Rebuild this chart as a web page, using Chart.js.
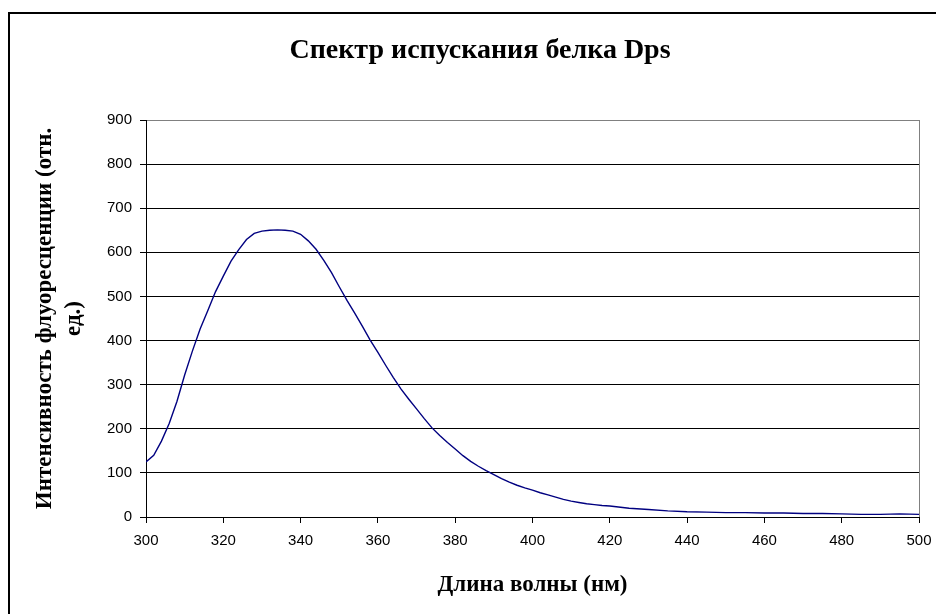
<!doctype html>
<html lang="ru">
<head>
    <meta charset="UTF-8">
    <title>Спектр испускания белка Dps</title>
    <style>
        html, body {
            margin: 0;
            padding: 0;
            background: #fff;
        }
        #chart {
            display: block;
        }
    </style>
</head>
<body>
    <canvas id="chart" width="936" height="614"></canvas>
    <script src="https://cdn.jsdelivr.net/npm/chart.js@4/dist/chart.umd.min.js"></script>
    <script>
        // wavelength, nm
        var wavelength = [
            300, 302, 304, 306, 308, 310, 312, 314, 316, 318,
            320, 322, 324, 326, 328, 330, 332, 334, 336, 338,
            340, 342, 344, 346, 348, 350, 352, 354, 356, 358,
            360, 362, 364, 366, 368, 370, 372, 374, 376, 378,
            380, 382, 384, 386, 388, 390, 392, 394, 396, 398,
            400, 402, 404, 406, 408, 410, 412, 414, 416, 418,
            420, 425, 430, 435, 440, 445, 450, 455, 460, 465,
            470, 475, 480, 485, 490, 495, 500
        ];
        // fluorescence intensity, rel. units
        var intensity = [
            125, 140, 172, 212, 262, 322, 376, 426, 468, 511,
            546, 580, 606, 629, 643, 648, 650, 651, 650, 648,
            641, 626, 607, 582, 554, 522, 491, 462, 432, 401,
            373, 344, 316, 290, 267, 245, 223, 202, 185, 169,
            154, 139, 126, 115, 105, 96, 87, 79, 72, 66,
            61, 55, 50, 45, 40, 36, 33, 30, 28, 26,
            25, 20, 17, 14, 12, 11, 10, 10, 9, 9,
            8, 8, 7, 6, 6, 7, 6
        ];
        var xTicks = [300, 320, 340, 360, 380, 400, 420, 440, 460, 480, 500];
        var yTicks = [0, 100, 200, 300, 400, 500, 600, 700, 800, 900];

        var chartTitle = 'Спектр испускания белка Dps';
        var xTitle = 'Длина волны (нм)';
        var yTitle = ['Интенсивность флуоресценции (отн.', 'ед.)'];

        var points = wavelength.map(function (w, i) {
            return { x: w, y: intensity[i] };
        });

        var serif = '"Liberation Serif", "Times New Roman", serif';
        var sans = '"Liberation Sans", Arial, sans-serif';

        // outer frame, title and the grey right edge of the plot
        var decor = {
            id: 'decor',
            beforeDraw: function (chart) {
                var ctx = chart.ctx;
                ctx.save();
                ctx.fillStyle = '#fff';
                ctx.fillRect(0, 0, chart.width, chart.height);
                ctx.strokeStyle = '#000';
                ctx.lineWidth = 2;
                ctx.beginPath();
                ctx.moveTo(9, chart.height);
                ctx.lineTo(9, 13);
                ctx.lineTo(chart.width, 13);
                ctx.stroke();

                ctx.fillStyle = '#000';
                ctx.font = 'bold 28px ' + serif;
                ctx.textAlign = 'center';
                ctx.textBaseline = 'alphabetic';
                ctx.fillText(chartTitle, 480, 58);
                ctx.restore();
            },
            afterDraw: function (chart) {
                var a = chart.chartArea;
                var ctx = chart.ctx;
                ctx.save();
                ctx.strokeStyle = '#808080';
                ctx.lineWidth = 1;
                ctx.beginPath();
                ctx.moveTo(Math.round(a.right) + 0.5, a.top);
                ctx.lineTo(Math.round(a.right) + 0.5, a.bottom);
                ctx.stroke();
                ctx.restore();
            }
        };

        var ctx = document.getElementById('chart').getContext('2d');
        var chart = new Chart(ctx, {
            type: 'line',
            data: {
                datasets: [{
                    data: points,
                    borderColor: '#000080',
                    borderWidth: 1.4,
                    pointRadius: 0,
                    tension: 0,
                    fill: false
                }]
            },
            options: {
                responsive: false,
                animation: false,
                layout: {
                    padding: { top: 120, right: 17, bottom: 0, left: 0 }
                },
                plugins: {
                    legend: { display: false },
                    title: { display: false },
                    tooltip: { enabled: false }
                },
                scales: {
                    x: {
                        type: 'linear',
                        min: 300,
                        max: 500,
                        afterBuildTicks: function (scale) {
                            scale.ticks = xTicks.map(function (v) { return { value: v }; });
                        },
                        afterFit: function (scale) {
                            scale.height = 97;
                            scale.paddingLeft = 0;
                            scale.paddingRight = 0;
                        },
                        grid: {
                            drawOnChartArea: false,
                            color: '#000',
                            tickLength: 6
                        },
                        border: { color: '#000', width: 1 },
                        ticks: {
                            color: '#000',
                            padding: 9,
                            maxRotation: 0,
                            font: { family: sans, size: 15 }
                        },
                        title: {
                            display: true,
                            text: xTitle,
                            color: '#000',
                            padding: { top: 0, bottom: 15 },
                            font: { family: serif, size: 23, weight: 'bold', lineHeight: 1.2 }
                        }
                    },
                    y: {
                        min: 0,
                        max: 900,
                        afterBuildTicks: function (scale) {
                            scale.ticks = yTicks.map(function (v) { return { value: v }; });
                        },
                        afterFit: function (scale) {
                            scale.width = 146;
                            scale.paddingTop = 0;
                            scale.paddingBottom = 0;
                        },
                        grid: {
                            color: function (c) {
                                return c.tick && c.tick.value === 900 ? '#808080' : '#000';
                            },
                            tickColor: '#000',
                            tickLength: 6
                        },
                        border: { color: '#000', width: 1 },
                        ticks: {
                            color: '#000',
                            padding: 8,
                            font: { family: sans, size: 15 }
                        },
                        title: {
                            display: true,
                            text: yTitle,
                            color: '#000',
                            padding: { top: 31, bottom: 0 },
                            font: { family: serif, size: 23, weight: 'bold', lineHeight: 1.25 }
                        }
                    }
                }
            },
            plugins: [decor]
        });
    </script>
</body>
</html>
